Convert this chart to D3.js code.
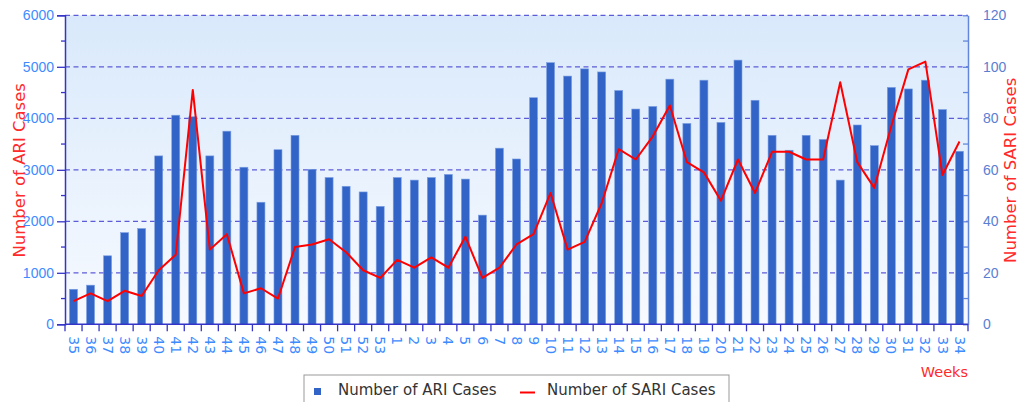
<!DOCTYPE html>
<html>
<head>
<meta charset="utf-8">
<script src="https://cdn.jsdelivr.net/npm/d3@7"></script>
<style>
  body { margin: 0; background: #fff; }
  svg { display: block; font-family: "DejaVu Sans", sans-serif; }
</style>
</head>
<body>
<div id="chart"></div>
<script>
var weeks = ["35","36","37","38","39","40","41","42","43","44","45","46","47","48","49","50","51","52","53",
  "1","2","3","4","5","6","7","8","9","10","11","12","13","14","15","16","17","18","19","20",
  "21","22","23","24","25","26","27","28","29","30","31","32","33","34"]

var ariCases = [680,760,1330,1780,1860,3270,4060,4030,3270,3750,3050,2370,3390,3670,3010,2850,2680,2570,2290,
  2850,2800,2850,2910,2820,2120,3420,3210,4400,5080,4820,4960,4900,4540,4180,4230,4760,3900,4740,3920,
  5130,4350,3670,3380,3670,3590,2800,3870,3470,4600,4570,4740,4170,3360]

var sariCases = [9,12,9,13,11,21,27,91,29,35,12,14,10,30,31,33,28,21,18,
  25,22,26,22,34,18,22,31,35,51,29,32,47,68,64,73,85,63,59,48,
  64,51,67,67,64,64,94,63,53,77,99,102,58,71]

var leftTicks = [0,1000,2000,3000,4000,5000,6000]
var rightTicks = [0,20,40,60,80,100,120]

var W = 1019, H = 402
var margin = {top: 15.3, right: 51, bottom: 77.7, left: 65},
  width = W - margin.left - margin.right,
  height = H - margin.top - margin.bottom

var svg = d3.select("#chart").append("svg")
  .attr("width", W)
  .attr("height", H)

var defs = svg.append("defs")
var grad = defs.append("linearGradient")
  .attr("id", "bg")
  .attr("x1", 0).attr("y1", 0).attr("x2", 0).attr("y2", 1)
grad.append("stop").attr("offset", "0%").attr("stop-color", "#d9e9fb")
grad.append("stop").attr("offset", "100%").attr("stop-color", "#f7faff")

var g = svg.append("g")
  .attr("transform", "translate(" + margin.left + "," + margin.top + ")")

var x = d3.scaleBand().domain(weeks).range([0, width]).padding(0)
var yL = d3.scaleLinear().domain([0, 6000]).range([height, 0])
var yR = d3.scaleLinear().domain([0, 120]).range([height, 0])

g.append("rect")
  .attr("width", width)
  .attr("height", height)
  .attr("fill", "url(#bg)")

// dashed grid
g.selectAll(".grid")
  .data(leftTicks.slice(1))
  .enter().append("line")
    .attr("class", "grid")
    .attr("x1", 0).attr("x2", width)
    .attr("y1", function(d){ return yL(d) })
    .attr("y2", function(d){ return yL(d) })
    .attr("stroke", "#5c5cd8")
    .attr("stroke-width", 1.3)
    .attr("stroke-dasharray", "5,3.5")

// bars
var barW = 8
g.selectAll(".bar")
  .data(ariCases)
  .enter().append("rect")
    .attr("class", "bar")
    .attr("x", function(d, i){ return x(weeks[i]) + x.bandwidth()/2 - barW/2 })
    .attr("y", function(d){ return yL(d) })
    .attr("width", barW)
    .attr("height", function(d){ return height - yL(d) })
    .attr("fill", "#3264c8")
    .attr("stroke", "#7c9fe2")
    .attr("stroke-width", 0.6)

// SARI line
var line = d3.line()
  .x(function(d, i){ return x(weeks[i]) + x.bandwidth()/2 })
  .y(function(d){ return yR(d) })

g.append("path")
  .datum(sariCases)
  .attr("d", line)
  .attr("fill", "none")
  .attr("stroke", "#ff0000")
  .attr("stroke-width", 2)
  .attr("stroke-linejoin", "round")

// left axis
var leftAxis = g.append("g")
  .call(d3.axisLeft(yL).tickValues(leftTicks).tickSize(8).tickPadding(3).tickFormat(d3.format("d")))
leftAxis.select(".domain").attr("stroke", "#3434c8").attr("stroke-width", 1.5)
leftAxis.selectAll(".tick line").attr("stroke", "#3434c8").attr("stroke-width", 1.3)
leftAxis.selectAll("text").attr("fill", "#3d8bff").style("font-size", "14px")
leftAxis.selectAll(".minor")
  .data(d3.range(500, 6000, 1000))
  .enter().append("line")
    .attr("class", "minor")
    .attr("x1", -4).attr("x2", 0)
    .attr("y1", function(d){ return yL(d) })
    .attr("y2", function(d){ return yL(d) })
    .attr("stroke", "#3434c8").attr("stroke-width", 1.3)

// right axis
var rightAxis = g.append("g")
  .attr("transform", "translate(" + width + ",0)")
  .call(d3.axisRight(yR).tickValues(rightTicks).tickSizeInner(-5).tickSizeOuter(0).tickPadding(15))
rightAxis.select(".domain").attr("stroke", "#6286dc").attr("stroke-width", 1.5)
rightAxis.selectAll(".tick line").attr("stroke", "#6286dc").attr("stroke-width", 1.3)
rightAxis.selectAll("text").attr("fill", "#5a7ed2").style("font-size", "14px")
rightAxis.selectAll(".minor")
  .data(d3.range(10, 120, 20))
  .enter().append("line")
    .attr("class", "minor")
    .attr("x1", -5).attr("x2", 0)
    .attr("y1", function(d){ return yR(d) })
    .attr("y2", function(d){ return yR(d) })
    .attr("stroke", "#6286dc").attr("stroke-width", 1.3)

// bottom axis
var bottom = g.append("g")
  .attr("transform", "translate(0," + height + ")")
bottom.append("line")
  .attr("x1", 0).attr("x2", width)
  .attr("stroke", "#3434c8").attr("stroke-width", 1.5)
bottom.selectAll(".xtick")
  .data(weeks.concat(["end"]))
  .enter().append("line")
    .attr("class", "xtick")
    .attr("x1", function(d, i){ return i * x.step() })
    .attr("x2", function(d, i){ return i * x.step() })
    .attr("y1", 0).attr("y2", 7)
    .attr("stroke", "#3434c8").attr("stroke-width", 1.3)
bottom.selectAll(".xlabel")
  .data(weeks)
  .enter().append("text")
    .attr("class", "xlabel")
    .attr("transform", function(d){
      return "translate(" + (x(d) + x.bandwidth()/2) + ",12) rotate(90)"
    })
    .attr("dy", "0.35em")
    .attr("fill", "#3d8bff")
    .style("font-size", "14px")
    .text(function(d){ return d })

// titles
svg.append("text")
  .attr("transform", "translate(19," + (margin.top + 155) + ") rotate(-90)")
  .attr("text-anchor", "middle")
  .attr("dy", "0.35em")
  .attr("fill", "#ff2a2a")
  .style("font-size", "16.5px")
  .text("Number of ARI Cases")

svg.append("text")
  .attr("transform", "translate(1010," + (margin.top + 155) + ") rotate(-90)")
  .attr("text-anchor", "middle")
  .attr("dy", "0.35em")
  .attr("fill", "#ff2a2a")
  .style("font-size", "16.5px")
  .text("Number of SARI Cases")

svg.append("text")
  .attr("x", margin.left + width)
  .attr("y", 377)
  .attr("text-anchor", "end")
  .attr("fill", "#ff2a2a")
  .style("font-size", "14.5px")
  .text("Weeks")

// legend
var legend = svg.append("g").attr("transform", "translate(304,375)")
legend.append("rect")
  .attr("width", 425).attr("height", 40)
  .attr("fill", "#fff")
  .attr("stroke", "#999").attr("stroke-width", 1)
legend.append("rect")
  .attr("x", 10).attr("y", 13).attr("width", 7).attr("height", 7)
  .attr("fill", "#3264c8")
legend.append("text")
  .attr("x", 34).attr("y", 20)
  .attr("fill", "#333")
  .style("font-size", "15px")
  .text("Number of ARI Cases")
legend.append("line")
  .attr("x1", 216).attr("x2", 231).attr("y1", 17.5).attr("y2", 17.5)
  .attr("stroke", "#ff0000").attr("stroke-width", 2)
legend.append("text")
  .attr("x", 243).attr("y", 20)
  .attr("fill", "#333")
  .style("font-size", "15px")
  .text("Number of SARI Cases")
</script>
</body>
</html>
